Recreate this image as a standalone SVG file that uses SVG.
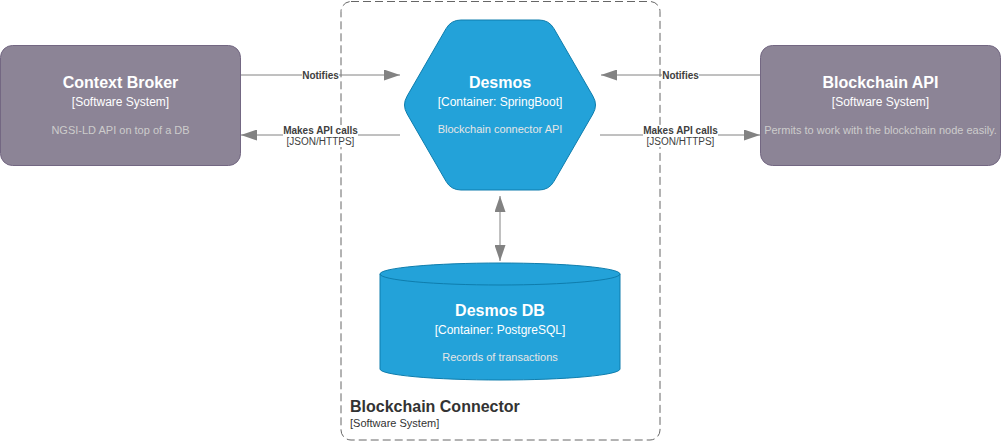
<svg xmlns="http://www.w3.org/2000/svg" width="1002" height="442" viewBox="0 0 1002 442">
<style>
text{font-family:"Liberation Sans",Arial,Helvetica,sans-serif}
.t{font-size:16px;font-weight:bold;fill:#ffffff;text-anchor:middle}
.s{font-size:12px;fill:#ffffff;text-anchor:middle}
.dp{font-size:11px;fill:#cccccc;text-anchor:middle}
.db{font-size:11px;fill:#e6e6e6;text-anchor:middle}
.ext{fill:#8c8496;stroke:#736782;stroke-width:1}
.cont{fill:#23a2d9;stroke:#0e7dad;stroke-width:1}
.edge{stroke:#828282;stroke-width:1;fill:none;marker-end:url(#ah)}
.lb{font-size:10px;font-weight:bold;fill:#404040;text-anchor:middle}
.ln{font-size:10px;fill:#404040;text-anchor:middle}
.bg{fill:#ffffff}
</style>
<defs>
<marker id="ah" viewBox="0 0 16 11" refX="16" refY="5.5" markerWidth="16" markerHeight="11" markerUnits="userSpaceOnUse" orient="auto-start-reverse">
<path d="M0,0 L16,5.5 L0,11 Z" fill="#828282"/>
</marker>
</defs>
<rect width="1002" height="442" fill="#ffffff"/>
<g id="boundary">
<rect x="341" y="1.5" width="319" height="438.5" rx="10" ry="10" fill="none" stroke="#666666" stroke-width="1" stroke-dasharray="8 4"/>
<text x="350" y="412" style="font-size:16px;font-weight:bold;fill:#333333">Blockchain Connector</text>
<text x="350" y="427" style="font-size:11px;fill:#333333">[Software System]</text>
</g>
<g id="connectors">
<line class="edge" x1="241" y1="75" x2="400" y2="75"/>
<rect class="bg" x="302" y="70" width="37" height="11"/>
<text class="lb" x="320.5" y="79">Notifies</text>
<line class="edge" x1="400" y1="135" x2="241" y2="135"/>
<rect class="bg" x="283" y="125" width="75" height="22"/>
<text class="lb" x="320.5" y="134">Makes API calls</text>
<text class="ln" x="320.5" y="144.5">[JSON/HTTPS]</text>
<line class="edge" x1="760" y1="75" x2="601" y2="75"/>
<rect class="bg" x="662" y="70" width="37" height="11"/>
<text class="lb" x="680.5" y="79">Notifies</text>
<line class="edge" x1="600" y1="135" x2="760" y2="135"/>
<rect class="bg" x="643" y="125" width="75" height="22"/>
<text class="lb" x="680.5" y="134">Makes API calls</text>
<text class="ln" x="680.5" y="144.5">[JSON/HTTPS]</text>
<line class="edge" x1="500" y1="196" x2="500" y2="261" style="marker-start:url(#ah)"/>
</g>
<g id="context-broker">
<rect class="ext" x="0.5" y="45.5" width="240" height="120" rx="12" ry="12"/>
<text class="t" x="120.5" y="88">Context Broker</text>
<text class="s" x="120.5" y="106">[Software System]</text>
<text class="dp" x="120.5" y="134">NGSI-LD API on top of a DB</text>
</g>
<g id="blockchain-api">
<rect class="ext" x="760.5" y="45.5" width="240" height="120" rx="12" ry="12"/>
<text class="t" x="880.5" y="88">Blockchain API</text>
<text class="s" x="880.5" y="106">[Software System]</text>
<text class="dp" x="880.5" y="134">Permits to work with the blockchain node easily.</text>
</g>
<g id="desmos">
<path class="cont" d="M461,20 L539,20 Q549,20 554,28.7 L593,96.3 Q598,105 593,113.7 L554,181.3 Q549,190 539,190 L461,190 Q451,190 446,181.3 L407,113.7 Q402,105 407,96.3 L446,28.7 Q451,20 461,20 Z"/>
<text class="t" x="500" y="88">Desmos</text>
<text class="s" x="500" y="106">[Container: SpringBoot]</text>
<text class="db" x="500" y="133">Blockchain connector API</text>
</g>
<g id="desmos-db">
<path class="cont" d="M380,274 A120,11 0 0 1 620,274 L620,369 A120,11 0 0 1 380,369 Z"/>
<path d="M380,274 A120,11 0 0 0 620,274" fill="none" stroke="#0e7dad" stroke-width="1"/>
<text class="t" x="500" y="316">Desmos DB</text>
<text class="s" x="500" y="334">[Container: PostgreSQL]</text>
<text class="db" x="500" y="361">Records of transactions</text>
</g>
</svg>
